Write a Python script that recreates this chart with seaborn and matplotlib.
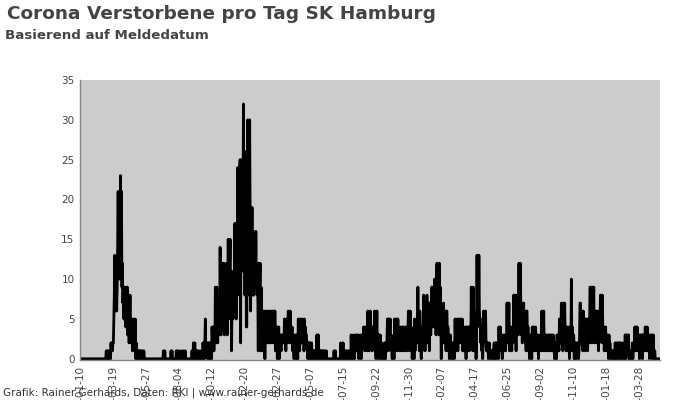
import matplotlib
matplotlib.use("Agg")
import matplotlib.pyplot as plt
import seaborn as sns
import pandas as pd
import numpy as np

# Zeitraum
start = "2020-01-10"
tick_step = 69  # Tage zwischen den Beschriftungen

# Verstorbene pro Tag, eine Zeile = eine Woche (ab 2020-01-10)
verstorbene = [
    0, 0, 0, 0, 0, 0, 0,
    0, 0, 0, 0, 0, 0, 0,
    0, 0, 0, 0, 0, 0, 0,
    0, 0, 0, 0, 0, 0, 0,
    0, 0, 0, 0, 0, 0, 0,
    0, 0, 0, 0, 0, 0, 0,
    0, 0, 0, 0, 0, 0, 0,
    0, 0, 0, 0, 0, 0, 1,
    1, 0, 1, 1, 0, 0, 1,
    1, 0, 2, 1, 2, 1, 2,
    2, 5, 8, 13, 6, 10, 9,
    6, 9, 14, 21, 12, 17, 10,
    18, 23, 15, 21, 9, 12, 7,
    9, 5, 9, 6, 8, 4, 9,
    6, 9, 3, 8, 5, 2, 4,
    8, 3, 5, 2, 4, 1, 3,
    5, 2, 4, 1, 5, 0, 2,
    1, 1, 0, 1, 0, 1, 0,
    1, 0, 1, 0, 0, 1, 0,
    0, 1, 0, 0, 0, 0, 0,
    0, 0, 0, 0, 0, 0, 0,
    0, 0, 0, 0, 0, 0, 0,
    0, 0, 0, 0, 0, 0, 0,
    0, 0, 0, 0, 0, 0, 0,
    0, 0, 0, 0, 0, 0, 0,
    1, 0, 0, 1, 0, 0, 0,
    0, 0, 0, 0, 0, 0, 0,
    0, 0, 1, 0, 1, 0, 0,
    0, 0, 0, 0, 0, 0, 1,
    0, 1, 0, 0, 0, 1, 0,
    0, 0, 0, 1, 0, 0, 0,
    1, 0, 0, 0, 1, 0, 0,
    0, 0, 0, 0, 0, 0, 0,
    0, 0, 0, 0, 1, 0, 0,
    2, 0, 1, 2, 0, 1, 0,
    1, 0, 1, 0, 0, 1, 0,
    0, 0, 1, 0, 0, 0, 2,
    1, 2, 0, 2, 5, 1, 2,
    2, 1, 0, 2, 1, 2, 0,
    1, 2, 1, 0, 4, 2, 1,
    4, 1, 3, 2, 9, 3, 2,
    9, 5, 2, 6, 3, 5, 4,
    14, 6, 3, 10, 4, 8, 12,
    7, 12, 3, 9, 5, 11, 6,
    12, 3, 8, 15, 5, 9, 11,
    15, 5, 11, 1, 7, 10, 5,
    11, 6, 9, 17, 8, 13, 5,
    17, 10, 24, 14, 20, 8, 24,
    25, 2, 22, 15, 25, 11, 20,
    32, 14, 24, 8, 18, 26, 4,
    4, 20, 30, 12, 19, 8, 30,
    19, 6, 14, 10, 19, 8, 12,
    16, 8, 12, 14, 9, 16, 10,
    11, 8, 9, 1, 12, 3, 9,
    12, 1, 9, 5, 1, 6, 3,
    6, 1, 5, 0, 6, 2, 4,
    6, 2, 5, 3, 6, 2, 4,
    2, 6, 3, 4, 2, 6, 3,
    6, 4, 2, 6, 1, 4, 2,
    4, 0, 3, 1, 4, 0, 2,
    3, 2, 1, 3, 2, 3, 2,
    3, 2, 5, 2, 3, 1, 5,
    5, 2, 4, 6, 3, 5, 2,
    6, 3, 4, 2, 4, 1, 3,
    3, 0, 2, 1, 3, 0, 1,
    3, 1, 0, 5, 2, 4, 1,
    5, 3, 4, 2, 5, 3, 4,
    4, 1, 5, 2, 4, 3, 3,
    2, 1, 0, 2, 1, 2, 0,
    2, 0, 1, 2, 0, 0, 1,
    0, 1, 0, 1, 1, 0, 1,
    3, 1, 0, 3, 1, 0, 1,
    1, 0, 1, 1, 0, 1, 0,
    1, 0, 0, 1, 0, 0, 1,
    0, 0, 0, 0, 0, 0, 0,
    0, 0, 0, 0, 0, 0, 0,
    0, 1, 0, 0, 1, 0, 0,
    0, 0, 0, 0, 0, 0, 0,
    0, 2, 0, 0, 1, 0, 2,
    0, 1, 0, 0, 0, 1, 0,
    1, 0, 0, 1, 0, 0, 0,
    1, 0, 3, 0, 1, 0, 2,
    3, 1, 0, 2, 1, 3, 1,
    3, 2, 1, 3, 0, 2, 1,
    2, 3, 0, 2, 1, 3, 2,
    4, 2, 3, 1, 4, 2, 3,
    4, 1, 6, 2, 4, 1, 3,
    6, 2, 4, 3, 1, 4, 2,
    4, 2, 6, 1, 4, 0, 3,
    6, 1, 3, 0, 3, 1, 2,
    3, 0, 1, 2, 0, 1, 0,
    1, 0, 2, 1, 0, 2, 1,
    2, 5, 1, 3, 5, 2, 4,
    5, 1, 3, 2, 0, 2, 1,
    2, 0, 5, 1, 3, 2, 5,
    4, 1, 5, 2, 3, 2, 1,
    2, 4, 1, 3, 4, 2, 1,
    4, 2, 3, 1, 4, 2, 3,
    4, 1, 3, 6, 2, 4, 1,
    6, 2, 4, 3, 0, 2, 1,
    3, 0, 5, 1, 3, 2, 4,
    5, 2, 9, 3, 4, 1, 6,
    4, 2, 0, 3, 1, 4, 2,
    8, 3, 4, 1, 6, 2, 4,
    8, 2, 5, 3, 7, 1, 4,
    7, 3, 6, 9, 4, 7, 5,
    9, 4, 10, 6, 8, 3, 10,
    12, 5, 9, 8, 3, 12, 6,
    9, 5, 0, 6, 3, 5, 2,
    7, 3, 6, 2, 5, 1, 6,
    6, 2, 4, 1, 3, 0, 2,
    3, 1, 2, 0, 2, 1, 0,
    2, 0, 1, 5, 2, 3, 1,
    5, 2, 1, 4, 5, 2, 3,
    5, 2, 4, 3, 5, 1, 2,
    3, 1, 4, 2, 3, 0, 4,
    4, 1, 3, 4, 2, 1, 4,
    4, 2, 9, 3, 5, 1, 9,
    4, 2, 6, 1, 3, 0, 2,
    13, 4, 9, 5, 13, 6, 5,
    5, 2, 4, 1, 2, 0, 2,
    6, 3, 5, 2, 6, 2, 1,
    2, 1, 2, 0, 1, 2, 1,
    1, 0, 1, 0, 0, 1, 0,
    1, 2, 0, 1, 2, 0, 2,
    2, 1, 2, 0, 4, 1, 2,
    4, 2, 3, 1, 0, 2, 1,
    3, 1, 2, 3, 1, 3, 2,
    7, 2, 4, 3, 7, 1, 4,
    4, 2, 3, 1, 4, 2, 3,
    8, 3, 6, 8, 4, 1, 6,
    8, 5, 6, 3, 12, 4, 6,
    12, 6, 3, 6, 2, 7, 4,
    7, 3, 6, 2, 5, 1, 6,
    6, 2, 4, 1, 3, 0, 3,
    3, 1, 2, 0, 4, 1, 2,
    4, 2, 3, 1, 4, 2, 3,
    3, 1, 2, 0, 3, 1, 2,
    2, 3, 1, 6, 2, 3, 1,
    6, 2, 3, 1, 3, 2, 1,
    2, 3, 1, 2, 3, 1, 2,
    3, 1, 2, 3, 2, 1, 3,
    2, 1, 0, 2, 1, 2, 0,
    3, 1, 2, 3, 1, 5, 2,
    5, 2, 7, 3, 5, 1, 7,
    4, 2, 7, 3, 4, 1, 4,
    4, 1, 3, 2, 4, 0, 3,
    3, 1, 10, 2, 4, 1, 3,
    3, 0, 2, 1, 2, 0, 1,
    2, 1, 2, 0, 1, 2, 7,
    7, 2, 6, 3, 5, 1, 6,
    5, 2, 4, 1, 5, 3, 4,
    5, 1, 3, 2, 5, 2, 9,
    9, 3, 6, 2, 9, 4, 5,
    9, 2, 5, 3, 6, 2, 5,
    6, 2, 4, 1, 6, 3, 4,
    8, 3, 5, 2, 8, 4, 3,
    4, 1, 3, 2, 4, 1, 2,
    3, 1, 2, 0, 3, 1, 2,
    1, 0, 1, 1, 0, 1, 0,
    1, 0, 1, 2, 0, 1, 2,
    2, 0, 1, 2, 1, 2, 0,
    2, 1, 0, 1, 2, 0, 1,
    1, 0, 1, 3, 0, 1, 3,
    3, 1, 2, 3, 0, 1, 0,
    0, 0, 1, 0, 2, 0, 1,
    2, 1, 4, 2, 1, 4, 2,
    4, 1, 3, 2, 3, 0, 2,
    3, 1, 2, 3, 0, 3, 1,
    3, 2, 1, 4, 2, 3, 1,
    4, 1, 3, 2, 3, 0, 2,
    3, 1, 2, 3, 0, 1, 3,
    1, 0, 1, 0, 0, 0, 0,
    0, 0, 0, 0, 0, 0, 0,
]

y_ticks = [0, 5, 10, 15, 20, 25, 30, 35]

titel = "Corona Verstorbene pro Tag SK Hamburg"
untertitel = "Basierend auf Meldedatum"
quelle = "Grafik: Rainer Gerhards, Daten: RKI | www.rainer-gerhards.de"

df = pd.DataFrame({
    "datum": pd.date_range(start, periods=len(verstorbene), freq="D"),
    "tote": verstorbene,
})

fig = plt.figure(figsize=(7, 4), dpi=100)
ax = fig.add_axes([80 / 700, 40 / 400, 580 / 700, 280 / 400])
ax.set_facecolor("#cccccc")

sns.lineplot(data=df, x="datum", y="tote", ax=ax, color="black", linewidth=2)

ax.set_xlim(df["datum"].iloc[0], df["datum"].iloc[-1])
ax.set_ylim(-0.15, 35)
ax.set_yticks(y_ticks)
ax.set_xlabel("")
ax.set_ylabel("")

tick_dates = df["datum"].iloc[::tick_step]
ax.set_xticks(tick_dates)
ax.set_xticklabels([d.strftime("%Y-%m-%d") for d in tick_dates], rotation=90)
ax.tick_params(axis="both", labelsize=7.5, colors="#444444", length=0, pad=4)

for s in ["top", "right"]:
    ax.spines[s].set_visible(False)
for s in ["left", "bottom"]:
    ax.spines[s].set_color("#888888")
    ax.spines[s].set_linewidth(1)

fig.text(0.01, 0.965, titel, fontsize=13.3, fontweight="bold", color="#444444", va="center")
fig.text(0.007, 0.912, untertitel, fontsize=9.6, fontweight="bold", color="#444444", va="center")
fig.text(0.004, 0.017, quelle, fontsize=7.5, color="#333333", va="center")

fig.savefig("out.png", dpi=100)
